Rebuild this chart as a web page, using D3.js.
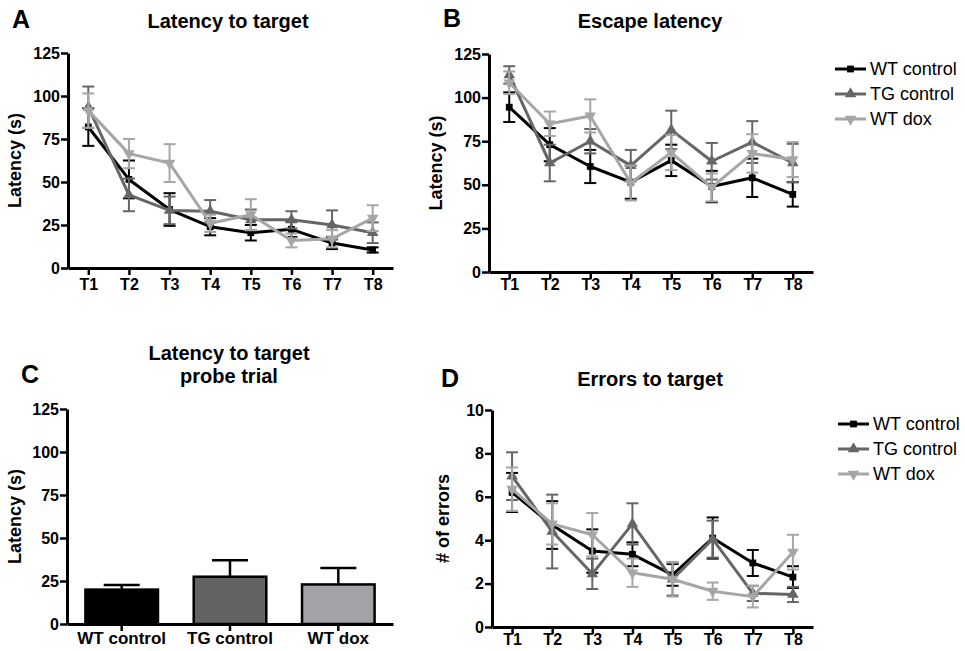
<!DOCTYPE html>
<html>
<head>
<meta charset="utf-8">
<script src="https://cdn.jsdelivr.net/npm/d3@7"></script>
<style>
  body { margin: 0; background: #fff; }
  text { font-family: "Liberation Sans", Arial, Helvetica, sans-serif; }
</style>
</head>
<body>
<script>
const trials = ['T1', 'T2', 'T3', 'T4', 'T5', 'T6', 'T7', 'T8'];
const groups = ['WT control', 'TG control', 'WT dox'];

// A - latency to target (s)
const latWT = [82, 51.5, 34, 24, 20.5, 22.5, 14.5, 10.5];
const latWTErr = [11, 11, 9.5, 5, 4.5, 4.5, 3.5, 1.5];
const latTG = [93.5, 42.5, 33.5, 33, 28, 28, 25, 20.5];
const latTGErr = [12, 9.5, 8, 6.5, 6, 5, 8.5, 6];
const latDox = [91.5, 66.5, 61, 26, 31, 16, 17, 29];
const latDoxErr = [10, 8.5, 11, 5, 9, 4, 5, 7.5];

// B - escape latency (s)
const escWT = [94.5, 73, 60.5, 51.5, 64, 49, 54, 44.5];
const escWTErr = [8.5, 9.5, 9.5, 9.5, 9, 9, 11, 7];
const escTG = [113, 62.5, 75, 61, 81.5, 63.5, 74.5, 62.5];
const escTGErr = [5, 10.5, 7, 9, 11, 10.5, 12, 11];
const escDox = [108.5, 85, 89.5, 51, 68.5, 48.5, 68, 64.5];
const escDoxErr = [6.5, 7, 9.5, 10, 10, 8, 11, 10];

// C - probe trial latency (s)
const probeMean = [20, 27.5, 23];
const probeErr = [2.7, 9.5, 9.5];

// D - errors to target
const errWT = [6.2, 4.7, 3.5, 3.35, 2.4, 4.1, 2.95, 2.3];
const errWTErr = [0.9, 1.1, 1.0, 0.55, 0.5, 0.95, 0.6, 0.5];
const errTG = [6.95, 4.4, 2.45, 4.75, 2.2, 4.05, 1.55, 1.5];
const errTGErr = [1.1, 1.7, 0.7, 0.95, 0.75, 0.85, 0.35, 0.35];
const errDox = [6.35, 4.75, 4.25, 2.5, 2.2, 1.65, 1.4, 3.45];
const errDoxErr = [1.0, 0.95, 1.0, 0.65, 0.8, 0.4, 0.5, 0.8];

const latTicks = [0, 25, 50, 75, 100, 125];
const errTicks = [0, 2, 4, 6, 8, 10];

const colors = ['#000000', '#666666', '#a6a6a6'];
const barColors = ['#000000', '#636363', '#a3a3a7'];
const symbols = [d3.symbolSquare, d3.symbolTriangle, d3.symbolTriangle];
const symbolRot = [0, 0, 180];
const symbolSize = [46, 58, 58];

const svg = d3.select('body').append('svg')
    .attr('width', 965)
    .attr('height', 651);

function styleAxis(g, fontSize) {
    g.select('.domain').attr('stroke', '#000').attr('stroke-width', 3);
    g.selectAll('.tick line').attr('stroke', '#000').attr('stroke-width', 2.5);
    g.selectAll('.tick text')
        .attr('fill', '#000')
        .style('font-size', fontSize + 'px')
        .style('font-weight', 'bold');
}

function drawYAxis(y, left, ticks, label, labelX) {
    const g = svg.append('g')
        .attr('transform', `translate(${left},0)`)
        .call(d3.axisLeft(y).tickValues(ticks).tickSize(7).tickSizeOuter(0).tickPadding(1));
    styleAxis(g, 16);

    const mid = (y.range()[0] + y.range()[1]) / 2;
    svg.append('text')
        .attr('transform', `translate(${labelX},${mid}) rotate(-90)`)
        .attr('text-anchor', 'middle')
        .style('font-size', '18px')
        .style('font-weight', 'bold')
        .text(label);
}

function drawHeading(letter, lx, ly, title, tx, ty) {
    svg.append('text')
        .attr('x', lx).attr('y', ly)
        .style('font-size', '25px')
        .style('font-weight', 'bold')
        .text(letter);

    const t = svg.append('text')
        .attr('text-anchor', 'middle')
        .style('font-size', '20px')
        .style('font-weight', 'bold');

    [].concat(title).forEach(function (line, i) {
        t.append('tspan')
            .attr('x', tx)
            .attr('y', ty + i * 23)
            .text(line);
    });
}

function marker(g, i, cx, cy) {
    g.append('path')
        .attr('d', d3.symbol().type(symbols[i]).size(symbolSize[i])())
        .attr('fill', colors[i])
        .attr('transform', `translate(${cx},${cy}) rotate(${symbolRot[i]})`);
}

function linePanel(o) {
    const x = d3.scalePoint().domain(trials).range([o.left, o.right]).padding(0.5);
    const y = d3.scaleLinear().domain([0, o.yMax]).range([o.bottom, o.top]);

    const xg = svg.append('g')
        .attr('transform', `translate(0,${o.bottom})`)
        .call(d3.axisBottom(x).tickSize(7).tickSizeOuter(0).tickPadding(o.labelGap));
    styleAxis(xg, 16);

    drawYAxis(y, o.left, o.ticks, o.label, o.labelX);

    const line = d3.line()
        .x((d, i) => x(trials[i]))
        .y(d => y(d));

    o.series.forEach(function (s, k) {
        const g = svg.append('g');
        const mean = s[0], err = s[1];

        trials.forEach(function (t, i) {
            const cx = x(t),
                y1 = y(mean[i] + err[i]),
                y2 = y(mean[i] - err[i]);
            g.append('line')
                .attr('x1', cx).attr('x2', cx)
                .attr('y1', y1).attr('y2', y2)
                .attr('stroke', colors[k]).attr('stroke-width', 2);
            [y1, y2].forEach(function (cy) {
                g.append('line')
                    .attr('x1', cx - 6).attr('x2', cx + 6)
                    .attr('y1', cy).attr('y2', cy)
                    .attr('stroke', colors[k]).attr('stroke-width', 2);
            });
        });

        g.append('path')
            .datum(mean)
            .attr('d', line)
            .attr('fill', 'none')
            .attr('stroke', colors[k])
            .attr('stroke-width', 3)
            .attr('stroke-linejoin', 'round');

        mean.forEach(function (v, i) {
            marker(g, k, x(trials[i]), y(v));
        });
    });
}

function legend(x0, y0) {
    groups.forEach(function (name, i) {
        const g = svg.append('g')
            .attr('transform', `translate(${x0},${y0 + i * 25})`);
        g.append('line')
            .attr('x1', 0).attr('x2', 31)
            .attr('stroke', colors[i]).attr('stroke-width', 3);
        marker(g, i, 15.5, 0);
        g.append('text')
            .attr('x', 35).attr('y', 6)
            .style('font-size', '18px')
            .text(name);
    });
}

// A
drawHeading('A', 12, 28, 'Latency to target', 228, 28);
linePanel({
    left: 68, right: 393, top: 53, bottom: 268, labelGap: 4,
    yMax: 125, ticks: latTicks, label: 'Latency (s)', labelX: 21,
    series: [[latWT, latWTErr], [latTG, latTGErr], [latDox, latDoxErr]]
});

// B
drawHeading('B', 443, 27, 'Escape latency', 650, 28);
linePanel({
    left: 489, right: 813, top: 54, bottom: 272, labelGap: 0,
    yMax: 125, ticks: latTicks, label: 'Latency (s)', labelX: 442,
    series: [[escWT, escWTErr], [escTG, escTGErr], [escDox, escDoxErr]]
});
legend(835, 69);

// C
drawHeading('C', 21, 383, ['Latency to target', 'probe trial'], 229, 360);
(function () {
    const x = d3.scaleBand().domain(groups).range([67, 393]).paddingInner(0.33).paddingOuter(0.17);
    const y = d3.scaleLinear().domain([0, 125]).range([624, 409]);

    const bars = svg.append('g');
    groups.forEach(function (gname, i) {
        const cx = x(gname) + x.bandwidth() / 2;
        bars.append('line')
            .attr('x1', cx).attr('x2', cx)
            .attr('y1', y(probeMean[i])).attr('y2', y(probeMean[i] + probeErr[i]))
            .attr('stroke', '#000').attr('stroke-width', 2.5);
        bars.append('line')
            .attr('x1', cx - 18).attr('x2', cx + 18)
            .attr('y1', y(probeMean[i] + probeErr[i])).attr('y2', y(probeMean[i] + probeErr[i]))
            .attr('stroke', '#000').attr('stroke-width', 2.5);
        bars.append('rect')
            .attr('x', x(gname))
            .attr('y', y(probeMean[i]))
            .attr('width', x.bandwidth())
            .attr('height', y(0) - y(probeMean[i]))
            .attr('fill', barColors[i])
            .attr('stroke', '#000')
            .attr('stroke-width', 2.5);
    });

    const xg = svg.append('g')
        .attr('transform', 'translate(0,624)')
        .call(d3.axisBottom(x).tickSize(7).tickSizeOuter(0).tickPadding(1));
    styleAxis(xg, 17);

    drawYAxis(y, 67, latTicks, 'Latency (s)', 21);
})();

// D
drawHeading('D', 441, 387, 'Errors to target', 650, 386);
linePanel({
    left: 492, right: 813, top: 410, bottom: 627, labelGap: 0,
    yMax: 10, ticks: errTicks, label: '# of errors', labelX: 449,
    series: [[errWT, errWTErr], [errTG, errTGErr], [errDox, errDoxErr]]
});
legend(838, 424);
</script>
</body>
</html>
